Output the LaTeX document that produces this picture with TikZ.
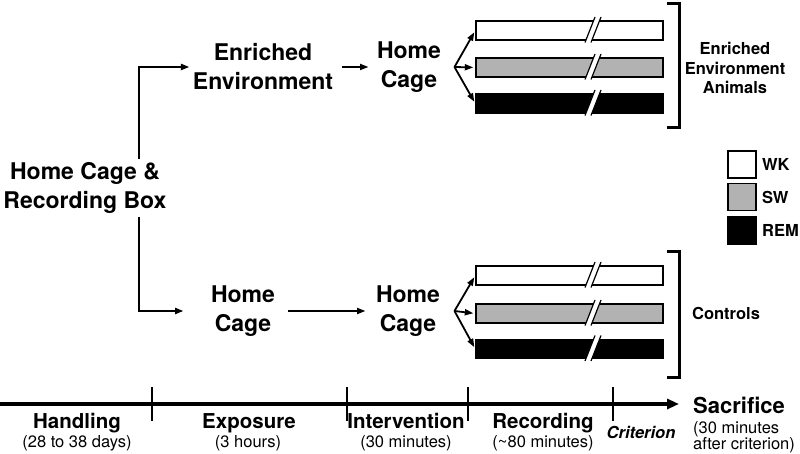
\documentclass[tikz,border=0pt]{standalone}
\usepackage{fontspec}
\setmainfont{TeX Gyre Heros}
\usepackage{tikz}
\usetikzlibrary{arrows.meta}
\tikzset{
	lab/.style={font=\bfseries\fontsize{23}{29}\selectfont, align=center},
	arr/.style={line width=1.8pt, -{Triangle[length=8.5pt,width=6pt]}},
	bar/.style={draw, line width=1.4pt, minimum width=187pt, minimum height=19pt, inner sep=0pt},
	key/.style={draw, line width=1.2pt, minimum width=28pt, minimum height=27pt, inner sep=0pt},
	keylab/.style={anchor=west, font=\bfseries\fontsize{16.5}{19}\selectfont},
	grp/.style={font=\bfseries\fontsize{16.5}{19.5}\selectfont, align=center},
	tl/.style={anchor=base, inner sep=0pt, font=\bfseries\fontsize{20.5}{24}\selectfont},
	tlsub/.style={anchor=base, inner sep=0pt, font=\fontsize{16.5}{18}\selectfont},
	brk/.pic={
		\fill[white] (15.5,12) -- (25.5,-13.5) -- (31.5,-13.5) -- (21.5,12) -- cycle;
		\draw[line width=1.2pt] (15.5,12) -- (25.5,-13.5) (21.5,12) -- (31.5,-13.5);
	}
}

\begin{document}
\begin{tikzpicture}[x=1pt, y=-1pt]
	\useasboundingbox (0,0) rectangle (800,454);
	\node[lab] (start) at (85,188) {Home Cage \&\\Recording Box};
	\node[lab] (enr) at (263,67) {Enriched\\Environment};
	\node[lab] (hc1) at (409,67) {Home\\Cage};
	\node[lab] (hc2) at (243,311) {Home\\Cage};
	\node[lab] (hc3) at (408,311) {Home\\Cage};
	\draw[arr, line width=2.4pt] ([xshift=54pt]start.north) |- (enr.west);
	\draw[arr, line width=2.4pt, shorten >=24pt] ([xshift=54pt]start.south) |- (hc2.west);
	\draw[arr, shorten <=5pt, shorten >=5pt] (enr.east) -- (hc1.west);
	\draw[arr, shorten <=10pt, shorten >=7pt] (hc2.east) -- (hc3.west);

	\node[bar] (ewk) at (569.5,30.5) {};
	\node[bar, fill=black!30] (esw) at (569.5,67.5) {};
	\node[bar, fill=black] (erem) at (569.5,103.5) {};
	\node[bar] (cwk) at (569.5,275.5) {};
	\node[bar, fill=black!30] (csw) at (569.5,313.5) {};
	\node[bar, fill=black] (crem) at (569.5,349) {};
	\foreach \b in {ewk,esw,erem,cwk,csw,crem}
		\pic at (\b.center) {brk};

	\coordinate (fe) at ([xshift=10pt]hc1.east);
	\coordinate (fc) at ([xshift=11pt]hc3.east);
	\foreach \b in {ewk,esw,erem}
		\draw[arr, shorten >=2pt] (fe) -- (\b.west);
	\foreach \b in {cwk,csw,crem}
		\draw[arr, shorten >=2pt] (fc) -- (\b.west);

	\draw[line width=3pt] (667,4) -- (679,4) -- (679,128) -- (667,128);
	\draw[line width=3pt] (667,252) -- (679,252) -- (679,377) -- (667,377);
	\node[grp] (gen) at (735,68) {Enriched\\Environment\\Animals};
	\node[grp] (gctl) at (726,313) {Controls};

	\node[key] (kwk) at (742,164.5) {};
	\node[key, fill=black!30] (ksw) at (742,197) {};
	\node[key, fill=black] (krem) at (742,230.5) {};
	\node[keylab] at ([xshift=2pt]kwk.east) {WK};
	\node[keylab] at ([xshift=2pt]ksw.east) {SW};
	\node[keylab] at ([xshift=2pt]krem.east) {REM};

	\coordinate (t0) at (0,404);
	\coordinate (t1) at (679,404);
	\draw[line width=3.4pt, -{Triangle[length=12pt,width=10pt]}] (t0) -- (t1);
	\foreach \x in {152,347,468,613}
		\draw[line width=2.4pt] (\x,387) -- (\x,421);
	\node[tl] (hand) at (77,428) {Handling};
	\node[tlsub] at (77,447) {(28 to 38 days)};
	\node[tl] (expo) at (249,428) {Exposure};
	\node[tlsub] at (248,447) {(3 hours)};
	\node[tl] (inter) at (406,428) {Intervention};
	\node[tlsub] at (406,447) {(30 minutes)};
	\node[tl] (rec) at (543,428) {Recording};
	\node[tlsub] at (543,447) {(\textasciitilde 80 minutes)};
	\node[anchor=base, inner sep=0pt, font=\bfseries\itshape\fontsize{16.5}{18}\selectfont] (crit) at (641,438) {Criterion};
	\node[anchor=base west, inner sep=0pt, font=\bfseries\fontsize{22}{24}\selectfont] (sac) at (693,413) {Sacrifice};
	\node[tlsub, anchor=base west] at (693,433) {(30 minutes};
	\node[tlsub, anchor=base west] at (693,449) {after criterion)};
\end{tikzpicture}
\end{document}
